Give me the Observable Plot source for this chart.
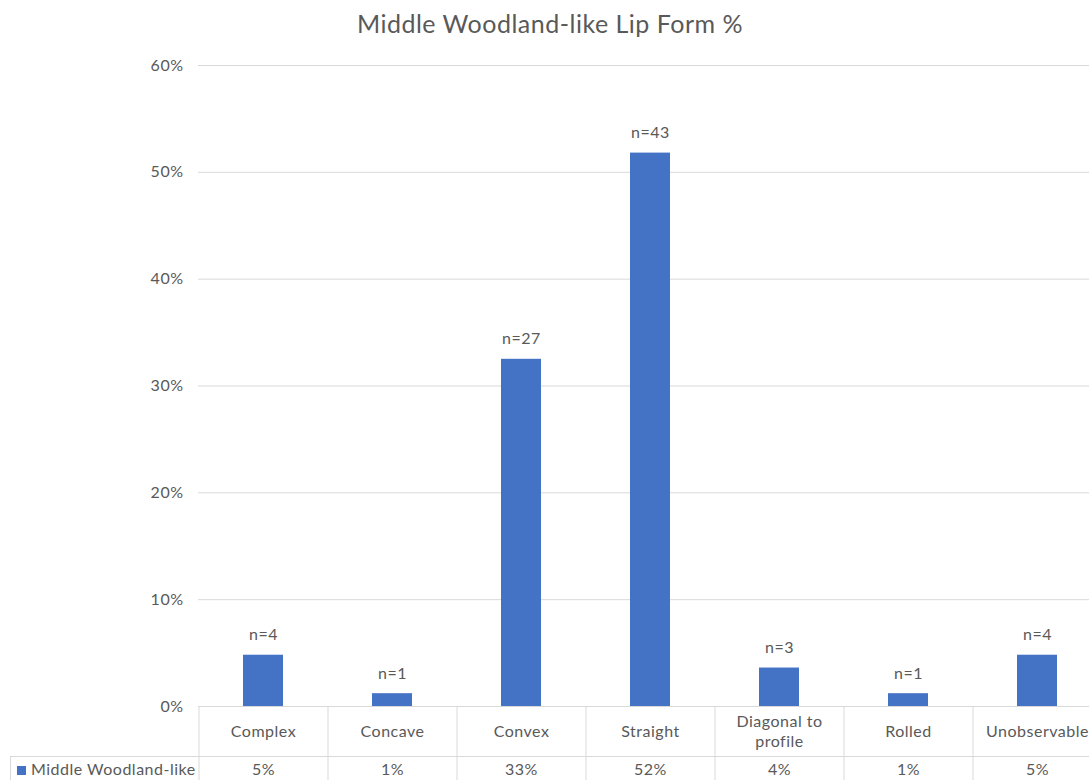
<!DOCTYPE html>
<html>
<head>
<meta charset="utf-8">
<script src="https://cdn.jsdelivr.net/npm/d3@7"></script>
<script src="https://cdn.jsdelivr.net/npm/@observablehq/plot@0.6"></script>
<style>
  html, body { margin: 0; padding: 0; background: #fff; overflow: hidden; }
  #wrap { position: relative; width: 1089px; height: 780px; font-family: Lato, "Open Sans", sans-serif; color: #595959; letter-spacing: 0.5px; }
  #title { position: absolute; top: 7px; left: 0; width: 1100px; text-align: center; font-size: 25px; line-height: 32px; }
  #legend { position: absolute; left: 10px; top: 756px; width: 188px; height: 30px; box-sizing: border-box;
            border-top: 1px solid #d9d9d9; border-left: 1px solid #d9d9d9; font-size: 16px; line-height: 24px; white-space: nowrap; }
  #legend .swatch { display: inline-block; width: 9px; height: 9px; background: #4472C4; margin: 0 5px 0 6px; vertical-align: 0px; }
</style>
</head>
<body>
<div id="wrap">
  <div id="title"></div>
  <div id="legend"></div>
</div>
<script>
// Lip form categories, sample counts and share of the assemblage
const categories = ["Complex", "Concave", "Convex", "Straight", "Diagonal to profile", "Rolled", "Unobservable"];
const counts = [4, 1, 27, 43, 3, 1, 4];
const shares = [0.048, 0.012, 0.325, 0.518, 0.036, 0.012, 0.048];
const yTicks = [0, 0.1, 0.2, 0.3, 0.4, 0.5, 0.6];
const seriesName = "Middle Woodland-like";
const chartTitle = "Middle Woodland-like Lip Form %";

const rows = categories.map((c, i) => ({category: c, n: counts[i], share: shares[i]}));

const barColor = "#4472C4";
const lineColor = "#d9d9d9";
const pct = d3.format(".0%");

// x bands: each column of the data table is one step wide
const xRange = [198.5, 1101.5];
const step = (xRange[1] - xRange[0]) / categories.length;

document.getElementById("title").textContent = chartTitle;
const legend = document.getElementById("legend");
legend.innerHTML = `<span class="swatch"></span>`;
legend.appendChild(document.createTextNode(seriesName));

const chart = Plot.plot({
  width: 1089,
  height: 780,
  marginTop: 65,
  marginBottom: 74,
  marginLeft: 198,
  marginRight: 0,
  style: {fontFamily: "Lato, 'Open Sans', sans-serif", fontSize: "16px", color: "#595959", background: "transparent", letterSpacing: "0.5px"},
  x: {domain: categories, range: xRange, paddingInner: 0.69, paddingOuter: 0.345, label: null},
  y: {domain: [0, 0.6], label: null},
  marks: [
    Plot.gridY(yTicks, {stroke: lineColor, strokeOpacity: 1}),
    Plot.axisY(yTicks, {tickSize: 0, tickPadding: 15, tickFormat: pct, label: null, fontSize: 16}),
    // data table: column borders, header rule and row separator
    Plot.axisX({tickSize: 74, tickFormat: () => "", dx: -step / 2, stroke: lineColor, label: null}),
    Plot.ruleY([0], {stroke: lineColor}),
    Plot.ruleY([0], {stroke: lineColor, dy: 50}),
    Plot.barY(rows, {x: "category", y: "share", fill: barColor}),
    Plot.text(rows, {x: "category", y: "share", text: d => `n=${d.n}`, dy: -20, fontSize: 16}),
    Plot.text(rows, {x: "category", text: "category", frameAnchor: "bottom", lineAnchor: "middle", dy: 24, lineWidth: 7, lineHeight: 1.25, fontSize: 16}),
    Plot.text(rows, {x: "category", text: d => pct(d.share), frameAnchor: "bottom", lineAnchor: "middle", dy: 63, fontSize: 16})
  ]
});
document.getElementById("wrap").prepend(chart);
chart.style.position = "absolute";
chart.style.left = "0";
chart.style.top = "0";
</script>
</body>
</html>
